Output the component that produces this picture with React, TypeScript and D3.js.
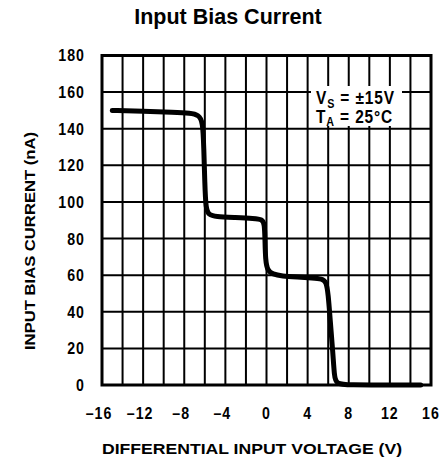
import React from "react";
import * as d3 from "d3";

const xTicks = [-16, -12, -8, -4, 0, 4, 8, 12, 16];
const yTicks = [0, 20, 40, 60, 80, 100, 120, 140, 160, 180];
const xGrid = [-14, -12, -10, -8, -6, -4, -2, 0, 2, 4, 6, 8, 10, 12, 14];
const yGrid = [20, 40, 60, 80, 100, 120, 140, 160];

const curveV = [-15, -12, -9, -7.4, -6.6, -6.2, -6.1, -6.0, -5.9, -5.6, -5.0, -3, -1.2, -0.4, -0.2, -0.15, -0.1, 0.1, 0.6, 1.5, 3, 4.5, 5.4, 5.8, 6.0, 6.2, 6.45, 6.6, 6.75, 8, 12, 15];
const curveI = [150, 149.5, 149, 148.5, 147.5, 144, 130, 110, 96, 93, 92, 91.5, 91, 90.5, 88, 80, 68, 62.5, 60.5, 59.5, 59, 58.5, 58, 56.5, 50, 35, 18, 5, 0.5, 0, 0, 0];

const FONT = "'Liberation Sans', Arial, sans-serif";
const SX = 0.86;

function CText(props: { x: number; y: number; anchor?: string; size: number; dy?: string; ls?: number; children: React.ReactNode }) {
  const { x, y, anchor, size, dy, ls, children } = props;
  return (
    <g transform={`translate(${x},${y}) scale(${SX},1)`}>
      <text x={0} y={0} dy={dy} textAnchor={anchor || "start"} fontFamily={FONT} fontWeight="bold" fontSize={size} fill="#000" letterSpacing={ls ?? 1}>
        {children}
      </text>
    </g>
  );
}

export default function App() {
  const W = 445, H = 462;
  const x = d3.scaleLinear().domain([-16, 16]).range([102, 431]);
  const y = d3.scaleLinear().domain([0, 180]).range([385, 55.5]);
  const pts: [number, number][] = curveV.map((v, i) => [v, curveI[i]]);
  const line = d3.line<[number, number]>()
    .x(d => x(d[0]))
    .y(d => y(d[1]))
    .curve(d3.curveBasis);
  const path = line([pts[0], ...pts, pts[pts.length - 1]]) || "";

  return (
    <svg width={W} height={H} style={{ position: "absolute", left: 0, top: 0 }}>
      <rect x={0} y={0} width={W} height={H} fill="#fff" />
      <text x={228} y={24} textAnchor="middle" fontFamily={FONT} fontWeight="bold" fontSize={21.5} fill="#000">
        Input Bias Current
      </text>
      {xGrid.map(v => (
        <line key={"vx" + v} x1={x(v)} x2={x(v)} y1={y(180)} y2={y(0)} stroke="#000" strokeWidth={2} />
      ))}
      {yGrid.map(v => (
        <line key={"hy" + v} x1={x(-16)} x2={x(16)} y1={y(v)} y2={y(v)} stroke="#000" strokeWidth={2} />
      ))}
      <rect x={x(-16)} y={y(180)} width={x(16) - x(-16)} height={y(0) - y(180)} fill="none" stroke="#000" strokeWidth={3} />
      <rect x={311} y={86} width={91} height={40} fill="#fff" />
      <CText x={316} y={104} size={18} ls={1}>
        <tspan>V</tspan>
        <tspan fontSize={12.5} dy={3.5}>S</tspan>
        <tspan dy={-3.5}>{"  =  ±15V"}</tspan>
      </CText>
      <CText x={316} y={122.5} size={18} ls={1}>
        <tspan>T</tspan>
        <tspan fontSize={12.5} dy={3.5}>A</tspan>
        <tspan dy={-3.5}>{"  =  25°C"}</tspan>
      </CText>
      <path d={path} fill="none" stroke="#000" strokeWidth={5} strokeLinejoin="round" strokeLinecap="round" />
      {yTicks.map(v => (
        <CText key={"yt" + v} x={85} y={y(v)} dy="0.36em" anchor="end" size={16.5} ls={1.2}>
          {v}
        </CText>
      ))}
      {xTicks.map(v => (
        <CText key={"xt" + v} x={x(v) - (v < 0 ? 3 : 0)} y={418.5} anchor="middle" size={16.5} ls={1.2}>
          {v < 0 ? "–" + Math.abs(v) : String(v)}
        </CText>
      ))}
      <text x={252} y={454} textAnchor="middle" fontFamily={FONT} fontWeight="bold" fontSize={15} fill="#000" textLength={300} lengthAdjust="spacingAndGlyphs">
        DIFFERENTIAL INPUT VOLTAGE (V)
      </text>
      <text transform="translate(35,241) rotate(-90)" textAnchor="middle" fontFamily={FONT} fontWeight="bold" fontSize={15} fill="#000" textLength={218} lengthAdjust="spacingAndGlyphs">
        INPUT BIAS CURRENT (nA)
      </text>
    </svg>
  );
}
